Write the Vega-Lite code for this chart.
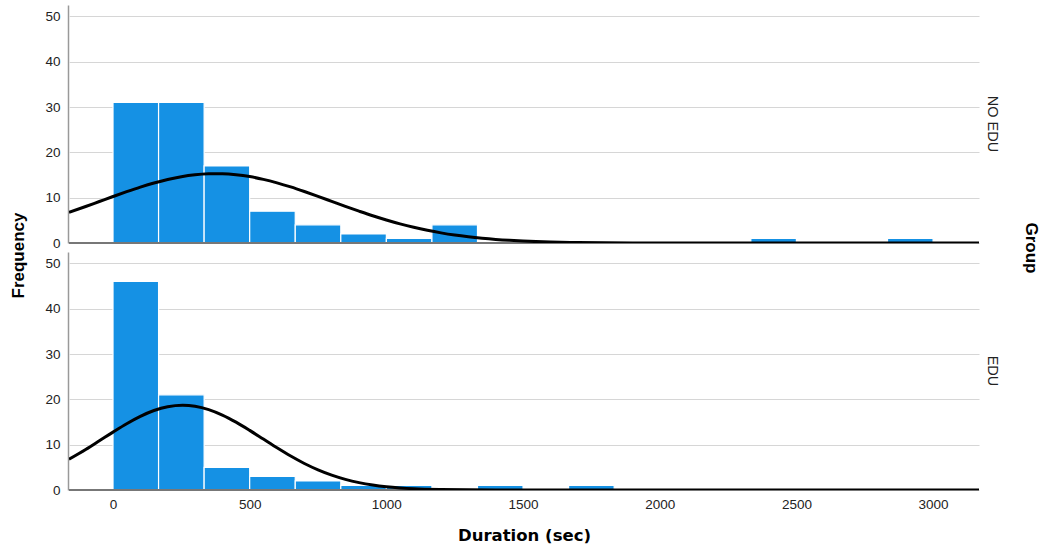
{
  "$schema": "https://vega.github.io/schema/vega-lite/v6.json",
  "padding": {"left": 9, "top": 5, "right": 3, "bottom": 0},
  "background": "white",
  "title": {"text": "Frequency", "orient": "left", "anchor": "middle", "frame": "bounds", "fontSize": 17, "fontWeight": "bold", "font": "Liberation Sans", "color": "#000000", "offset": 17, "dx": 19},
  "data": {"values": [
    {"group": "NO EDU", "kind": "bar", "x0": 0, "x1": 166.67, "count": 31},
    {"group": "NO EDU", "kind": "bar", "x0": 166.67, "x1": 333.33, "count": 31},
    {"group": "NO EDU", "kind": "bar", "x0": 333.33, "x1": 500, "count": 17},
    {"group": "NO EDU", "kind": "bar", "x0": 500, "x1": 666.67, "count": 7},
    {"group": "NO EDU", "kind": "bar", "x0": 666.67, "x1": 833.33, "count": 4},
    {"group": "NO EDU", "kind": "bar", "x0": 833.33, "x1": 1000, "count": 2},
    {"group": "NO EDU", "kind": "bar", "x0": 1000, "x1": 1166.67, "count": 1},
    {"group": "NO EDU", "kind": "bar", "x0": 1166.67, "x1": 1333.33, "count": 4},
    {"group": "NO EDU", "kind": "bar", "x0": 2333.33, "x1": 2500, "count": 1},
    {"group": "NO EDU", "kind": "bar", "x0": 2833.33, "x1": 3000, "count": 1},
    {"group": "EDU", "kind": "bar", "x0": 0, "x1": 166.67, "count": 46},
    {"group": "EDU", "kind": "bar", "x0": 166.67, "x1": 333.33, "count": 21},
    {"group": "EDU", "kind": "bar", "x0": 333.33, "x1": 500, "count": 5},
    {"group": "EDU", "kind": "bar", "x0": 500, "x1": 666.67, "count": 3},
    {"group": "EDU", "kind": "bar", "x0": 666.67, "x1": 833.33, "count": 2},
    {"group": "EDU", "kind": "bar", "x0": 833.33, "x1": 1000, "count": 1},
    {"group": "EDU", "kind": "bar", "x0": 1000, "x1": 1166.67, "count": 1},
    {"group": "EDU", "kind": "bar", "x0": 1333.33, "x1": 1500, "count": 1},
    {"group": "EDU", "kind": "bar", "x0": 1666.67, "x1": 1833.33, "count": 1},
    {"group": "NO EDU", "kind": "curve", "x": -161, "y": 6.76},
    {"group": "NO EDU", "kind": "curve", "x": -100, "y": 8.05},
    {"group": "NO EDU", "kind": "curve", "x": -50, "y": 9.15},
    {"group": "NO EDU", "kind": "curve", "x": 0, "y": 10.25},
    {"group": "NO EDU", "kind": "curve", "x": 50, "y": 11.32},
    {"group": "NO EDU", "kind": "curve", "x": 100, "y": 12.33},
    {"group": "NO EDU", "kind": "curve", "x": 150, "y": 13.24},
    {"group": "NO EDU", "kind": "curve", "x": 200, "y": 14.01},
    {"group": "NO EDU", "kind": "curve", "x": 250, "y": 14.63},
    {"group": "NO EDU", "kind": "curve", "x": 300, "y": 15.05},
    {"group": "NO EDU", "kind": "curve", "x": 350, "y": 15.27},
    {"group": "NO EDU", "kind": "curve", "x": 376, "y": 15.3},
    {"group": "NO EDU", "kind": "curve", "x": 400, "y": 15.28},
    {"group": "NO EDU", "kind": "curve", "x": 450, "y": 15.06},
    {"group": "NO EDU", "kind": "curve", "x": 500, "y": 14.65},
    {"group": "NO EDU", "kind": "curve", "x": 550, "y": 14.04},
    {"group": "NO EDU", "kind": "curve", "x": 600, "y": 13.27},
    {"group": "NO EDU", "kind": "curve", "x": 650, "y": 12.37},
    {"group": "NO EDU", "kind": "curve", "x": 700, "y": 11.36},
    {"group": "NO EDU", "kind": "curve", "x": 750, "y": 10.29},
    {"group": "NO EDU", "kind": "curve", "x": 800, "y": 9.19},
    {"group": "NO EDU", "kind": "curve", "x": 850, "y": 8.09},
    {"group": "NO EDU", "kind": "curve", "x": 900, "y": 7.03},
    {"group": "NO EDU", "kind": "curve", "x": 950, "y": 6.01},
    {"group": "NO EDU", "kind": "curve", "x": 1000, "y": 5.08},
    {"group": "NO EDU", "kind": "curve", "x": 1050, "y": 4.22},
    {"group": "NO EDU", "kind": "curve", "x": 1100, "y": 3.46},
    {"group": "NO EDU", "kind": "curve", "x": 1150, "y": 2.8},
    {"group": "NO EDU", "kind": "curve", "x": 1200, "y": 2.23},
    {"group": "NO EDU", "kind": "curve", "x": 1250, "y": 1.75},
    {"group": "NO EDU", "kind": "curve", "x": 1300, "y": 1.36},
    {"group": "NO EDU", "kind": "curve", "x": 1350, "y": 1.04},
    {"group": "NO EDU", "kind": "curve", "x": 1400, "y": 0.78},
    {"group": "NO EDU", "kind": "curve", "x": 1450, "y": 0.58},
    {"group": "NO EDU", "kind": "curve", "x": 1500, "y": 0.43},
    {"group": "NO EDU", "kind": "curve", "x": 1600, "y": 0.22},
    {"group": "NO EDU", "kind": "curve", "x": 1700, "y": 0.11},
    {"group": "NO EDU", "kind": "curve", "x": 1800, "y": 0.05},
    {"group": "NO EDU", "kind": "curve", "x": 1900, "y": 0.02},
    {"group": "NO EDU", "kind": "curve", "x": 2000, "y": 0.01},
    {"group": "NO EDU", "kind": "curve", "x": 2500, "y": 0},
    {"group": "NO EDU", "kind": "curve", "x": 3168, "y": 0},
    {"group": "EDU", "kind": "curve", "x": -161, "y": 6.78},
    {"group": "EDU", "kind": "curve", "x": -100, "y": 8.93},
    {"group": "EDU", "kind": "curve", "x": -50, "y": 10.84},
    {"group": "EDU", "kind": "curve", "x": 0, "y": 12.77},
    {"group": "EDU", "kind": "curve", "x": 50, "y": 14.62},
    {"group": "EDU", "kind": "curve", "x": 100, "y": 16.24},
    {"group": "EDU", "kind": "curve", "x": 150, "y": 17.53},
    {"group": "EDU", "kind": "curve", "x": 200, "y": 18.37},
    {"group": "EDU", "kind": "curve", "x": 255, "y": 18.7},
    {"group": "EDU", "kind": "curve", "x": 300, "y": 18.48},
    {"group": "EDU", "kind": "curve", "x": 350, "y": 17.74},
    {"group": "EDU", "kind": "curve", "x": 400, "y": 16.53},
    {"group": "EDU", "kind": "curve", "x": 450, "y": 14.96},
    {"group": "EDU", "kind": "curve", "x": 500, "y": 13.15},
    {"group": "EDU", "kind": "curve", "x": 550, "y": 11.23},
    {"group": "EDU", "kind": "curve", "x": 600, "y": 9.31},
    {"group": "EDU", "kind": "curve", "x": 650, "y": 7.49},
    {"group": "EDU", "kind": "curve", "x": 700, "y": 5.85},
    {"group": "EDU", "kind": "curve", "x": 750, "y": 4.45},
    {"group": "EDU", "kind": "curve", "x": 800, "y": 3.28},
    {"group": "EDU", "kind": "curve", "x": 850, "y": 2.35},
    {"group": "EDU", "kind": "curve", "x": 900, "y": 1.63},
    {"group": "EDU", "kind": "curve", "x": 950, "y": 1.1},
    {"group": "EDU", "kind": "curve", "x": 1000, "y": 0.72},
    {"group": "EDU", "kind": "curve", "x": 1050, "y": 0.46},
    {"group": "EDU", "kind": "curve", "x": 1100, "y": 0.28},
    {"group": "EDU", "kind": "curve", "x": 1200, "y": 0.1},
    {"group": "EDU", "kind": "curve", "x": 1300, "y": 0.03},
    {"group": "EDU", "kind": "curve", "x": 1400, "y": 0.01},
    {"group": "EDU", "kind": "curve", "x": 1600, "y": 0},
    {"group": "EDU", "kind": "curve", "x": 3168, "y": 0}
  ]},
  "facet": {
    "row": {
      "field": "group",
      "type": "nominal",
      "sort": ["NO EDU", "EDU"],
      "title": "Group",
      "header": {
        "labelOrient": "right",
        "labelAngle": 90,
        "labelFontSize": 14.5,
        "labelFont": "Liberation Sans",
        "labelColor": "#222222",
        "labelPadding": 4,
        "titleOrient": "right",
        "titleAngle": 90,
        "titleFontSize": 17,
        "titleFontWeight": "bold",
        "titleFont": "Liberation Sans",
        "titleColor": "#000000",
        "titlePadding": 12
      }
    }
  },
  "spacing": 8,
  "spec": {
    "width": 910,
    "height": 238,
    "layer": [
      {
        "transform": [{"filter": "datum.kind === 'bar'"}],
        "mark": {"type": "rect", "color": "#1591e4", "stroke": "#ffffff", "strokeWidth": 1.2},
        "encoding": {
          "x": {"field": "x0", "type": "quantitative"},
          "x2": {"field": "x1"},
          "y": {"field": "count", "type": "quantitative"},
          "y2": {"datum": 0}
        }
      },
      {
        "mark": {"type": "rule", "color": "#777777", "strokeWidth": 1.5},
        "encoding": {"y": {"datum": 0, "type": "quantitative"}}
      },
      {
        "transform": [{"filter": "datum.kind === 'curve'"}],
        "mark": {"type": "line", "color": "#000000", "strokeWidth": 3, "interpolate": "monotone", "clip": true},
        "encoding": {
          "x": {"field": "x", "type": "quantitative"},
          "y": {"field": "y", "type": "quantitative"}
        }
      }
    ],
    "encoding": {
      "x": {
        "type": "quantitative",
        "scale": {"domain": [-161, 3168], "nice": false, "zero": false},
        "axis": {"title": "Duration (sec)", "titleFont": "DejaVu Sans", "titleFontSize": 16.5, "values": [0, 500, 1000, 1500, 2000, 2500, 3000], "format": "d", "grid": false, "domain": false, "ticks": false, "labelPadding": 6, "titlePadding": 17}
      },
      "y": {
        "type": "quantitative",
        "scale": {"domain": [0, 52.5], "nice": false},
        "axis": {"title": null, "values": [0, 10, 20, 30, 40, 50], "ticks": false, "labelPadding": 8}
      }
    }
  },
  "resolve": {"scale": {"x": "shared", "y": "shared"}},
  "config": {
    "view": {"stroke": null},
    "font": "Liberation Sans",
    "axis": {
      "labelFont": "Liberation Sans",
      "labelFontSize": 13.5,
      "labelColor": "#222222",
      "titleFont": "Liberation Sans",
      "titleFontSize": 16,
      "titleFontWeight": "bold",
      "titleColor": "#000000",
      "domainColor": "#999999",
      "domainWidth": 1.5,
      "gridColor": "#d6d6d6",
      "gridWidth": 1.2
    }
  }
}
